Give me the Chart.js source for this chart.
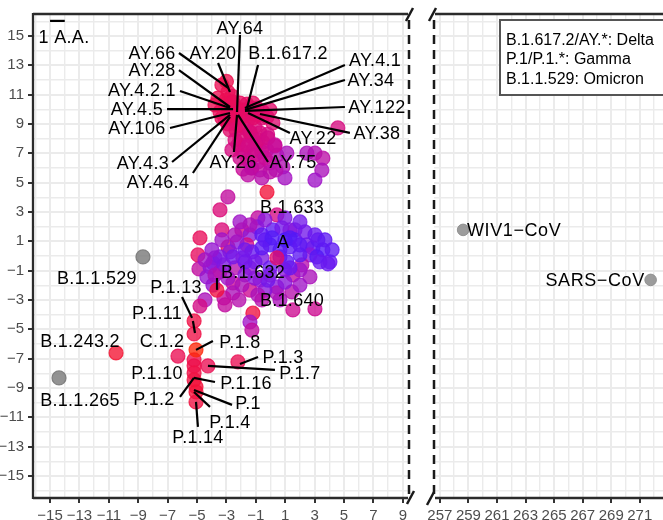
<!DOCTYPE html>
<html><head><meta charset="utf-8">
<script src="https://cdn.jsdelivr.net/npm/chart.js@4.4.1/dist/chart.umd.min.js"></script>
<style>
html,body{margin:0;padding:0;overflow:hidden;background:#fff;width:663px;height:520px;}
canvas{position:absolute;top:0;}
#left{left:0;width:420px;height:540px;}
#right{left:420px;width:253px;height:540px;}
</style></head><body>
<canvas id="left" width="420" height="540"></canvas>
<canvas id="right" width="253" height="540"></canvas>
<script>
// ---------- DATA ----------
const xTickLabelsLeft = [-15,-13,-11,-9,-7,-5,-3,-1,1,3,5,7,9];
const xTickLabelsRight = [257,259,261,263,265,267,269,271];
const yTickLabels = [-15,-13,-11,-9,-7,-5,-3,-1,1,3,5,7,9,11,13,15];

// Delta cluster (B.1.617.2 / AY.*): x, y, colour value (0 = red ... 1 = blue)
const deltaX = [-3.31,-2.90,-3.58,-3.10,-2.63,-2.90,-2.42,-2.08,-1.61,-1.20,-0.93,-0.52,0.16,-0.59,-3.31,-2.90,-2.08,-1.54,-2.35,-1.74,-1.06,-2.08,-1.27,-0.72,-0.52,-1.74,-1.88,-1.20,-0.59,-0.25,-1.54,-0.86,-1.88,-0.72,-0.04,0.43,1.11,0.84,0.98,2.47,3.02,3.56,3.49,3.02,4.58,-2.5,-1.9,-2.7,-1.4,-2.2,-1.4,-1.0,-2.2,-1.3,0.3,-0.2,-3.0,
  -3.78,-3.44,-3.03,-2.56,-1.95,-1.40,-0.86,-0.24,-0.04,-3.10,-2.63,-2.22,-1.74,-1.20,-2.76,-1.40,-0.86,-2.42,-1.54,-1.06,-2.08,-0.38,-1.27,-0.04,-0.59,0.37,-1.54,-2.63,-0.18,0.30];
const deltaY = [11.66,11.18,10.77,10.36,10.91,9.82,10.10,10.43,10.36,10.43,10.09,9.82,9.07,9.41,9.41,9.00,9.41,9.27,8.59,8.73,8.80,8.05,8.11,8.39,7.77,7.57,7.10,7.23,7.10,7.23,6.55,6.41,5.93,5.87,6.34,6.88,7.01,6.07,5.32,7.01,7.01,6.67,5.86,5.18,8.73,9.3,9.9,10.5,9.7,8.9,8.4,7.7,7.6,6.0,7.5,8.3,11.9,
  10.30,9.82,10.64,10.50,9.96,10.10,9.62,9.48,9.96,9.28,9.62,9.82,9.55,9.41,8.60,8.46,7.91,7.91,7.50,6.89,6.69,6.69,6.00,5.73,5.32,5.87,5.53,7.23,8.05,7.57];
const deltaShade = [.15,.15,.15,.17,.17,.18,.2,.2,.22,.22,.24,.25,.27,.26,.18,.2,.22,.25,.26,.28,.3,.3,.32,.32,.35,.33,.36,.36,.38,.4,.4,.42,.42,.45,.45,.5,.55,.52,.58,.55,.52,.48,.55,.6,.33,.2,.22,.18,.25,.25,.3,.35,.32,.44,.45,.33,.13,
  .15,.17,.16,.18,.2,.22,.24,.26,.25,.2,.2,.2,.23,.25,.25,.3,.33,.3,.35,.38,.38,.42,.45,.48,.5,.5,.47,.33,.36,.42];

// Central cluster (A, B.1.633, B.1.632, B.1.640 ...)
const centralX = [-0.24,-2.90,-3.44,-3.31,-4.80,-4.94,-4.87,-0.86,-0.93,0.43,-1.95,-1.40,-1.61,-2.90,-2.28,-0.38,0.16,0.77,1.32,1.66,-0.04,0.64,1.32,2.47,2.88,3.56,4.04,2.68,-0.59,-1.27,-2.76,-3.78,-4.12,-3.44,-2.42,-1.40,-0.72,-2.56,-1.40,-3.92,-3.44,-2.56,-4.33,-3.92,-4.46,-4.80,-2.56,0.43,0.43,1.45,2.13,2.68,1.52,1.52,3.02,3.91,3.15,0.64,-1.20,-1.40,-1.27,-0.59,0.98,1.66,2.00,1.11,-0.04,-1.06,-1.88,-3.17,-1.74,-0.38,0.98,3.22,2.34,2.00,-2.15,-3.17,-0.86,-0.18,0.43,-3.65,
  -2.08,-0.38,0.98,2.00,-1.40,0.10,1.32,2.00,3.02,3.70,4.19,3.36,-0.59,-1.74,-2.42,-3.31,-3.99,-4.46,-3.78,-2.90,-1.95,-1.06,-0.04,0.98,2.00,-0.59,-3.10,0.64,-1.74,1.32];
const centralY = [4.36,4.03,3.14,1.78,1.23,0.07,-0.88,2.60,1.98,2.80,1.78,1.44,0.76,0.62,0.96,1.10,1.78,1.92,1.78,1.78,0.76,0.42,0.62,0.76,0.55,0.42,-0.40,0.07,-0.13,0.28,0.28,-0.13,-0.74,-1.08,-0.81,-0.81,-1.64,-1.84,-2.32,-0.47,-0.06,-0.06,-1.43,-1.98,-2.99,-3.41,-2.52,-2.11,-2.52,-2.45,-0.61,-1.43,-1.29,-3.68,-3.61,-0.54,-0.06,-0.06,-3.90,-4.50,-5.05,1.44,1.10,1.10,0.07,-0.40,-0.81,-0.40,-0.13,-0.61,-1.29,-2.32,-0.95,1.10,1.64,-0.95,-2.99,-2.86,-2.65,-1.64,-0.13,-2.32,
  2.32,2.46,2.60,2.32,2.12,1.23,1.23,0.76,1.44,1.10,0.42,-0.40,0.55,0.42,1.44,1.10,0.42,-0.27,-1.30,-1.51,-1.98,-1.51,-1.30,-1.78,-1.98,-2.99,-3.33,-2.99,-0.40,-0.81];
const centralShade = [.05,.45,.3,.3,.18,.2,.45,.45,.65,.35,.35,.7,.35,.15,.7,.85,.9,.8,.75,.72,.95,.95,.9,.8,.85,.95,.85,.7,.75,.85,.7,.7,.7,.3,.5,.65,.65,.4,.4,.7,.75,.8,.65,.65,.55,.35,.55,.7,.55,.5,.5,.55,.45,.4,.4,.85,.95,.9,.08,.6,.45,.9,1.0,.95,.9,.9,.85,.8,.75,.75,.7,.7,.7,.9,.8,.6,.5,.45,.55,.8,.25,.08,
  .6,.7,.75,.8,.55,.95,.95,.9,.85,.9,.9,.85,.9,.8,.55,.6,.65,.6,.55,.6,.55,.7,.75,.7,.6,.5,.45,.55,.8,.85];

// Gamma cluster (P.1 / P.1.*) and nearby
const gammaX = [-5.20,-5.20,-6.30,-10.51,-5.20,-5.20,-4.26,-2.22,-5.20,-5.20,-5.07,-5.07,-5.07,-5.07];
const gammaY = [-4.43,-5.31,-6.82,-6.61,-7.08,-7.49,-7.49,-7.22,-7.97,-8.45,-8.92,-9.27,-9.95,-6.40];
const gammaShade = [.1,.1,.15,.02,.12,.12,.15,.15,.1,.08,.05,.05,.08,-.08];

// Grey reference viruses
const greyLeftX = [-8.68,-14.39];   // B.1.1.529, B.1.1.265
const greyLeftY = [-0.06,-8.31];
const greyRightX = [258.63,271.76]; // WIV1-CoV, SARS-CoV
const greyRightY = [1.78,-1.63];

// Text labels (left panel): name, label centre, optional leader segment
const labelNames = ['AY.64','AY.66','AY.20','B.1.617.2','AY.4.1','AY.34','AY.28','AY.4.2.1','AY.4.5','AY.122','AY.106','AY.38','AY.22','AY.4.3','AY.46.4','AY.26','AY.75','B.1.633','A','B.1.632','B.1.640','B.1.1.529','P.1.13','P.1.11','C.1.2','P.1.8','B.1.243.2','B.1.1.265','P.1.3','P.1.7','P.1.10','P.1.16','P.1.2','P.1','P.1.4','P.1.14'];
const labelX = [-2.08,-8.06,-3.92,1.19,7.11,6.83,-8.06,-8.75,-9.09,7.24,-9.09,7.24,2.89,-8.68,-7.66,-2.55,1.53,1.46,0.85,-1.19,1.46,-11.81,-6.43,-7.72,-7.38,-2.08,-12.96,-12.96,0.85,2.00,-7.72,-1.67,-7.93,-1.53,-2.76,-4.94];
const labelY = [15.55,13.86,13.84,13.84,13.36,12.0,12.68,11.32,10.02,10.16,8.73,8.39,8.05,6.34,5.05,6.41,6.41,3.34,0.96,-1.09,-2.99,-1.50,-2.11,-3.88,-5.79,-5.86,-5.79,-9.81,-6.88,-7.97,-7.97,-8.65,-9.74,-10.02,-11.31,-12.33];
const labelSegments = [
  [-2.08,15.07,-2.28,9.82],[-6.23,13.84,-2.89,11.46],[-3.57,13.16,-2.76,11.18],[-0.85,13.02,-1.60,10.09],
  [5.06,13.02,-1.74,10.09],[5.06,12.0,-1.74,9.96],[-6.23,12.68,-2.76,10.16],[-6.16,11.25,-2.76,10.09],
  [-7.04,10.02,-2.55,10.02],[5.06,10.16,-1.74,9.89],[-6.84,8.73,-2.76,9.75],[5.40,8.39,-0.72,9.68],
  [1.32,8.39,-1.53,9.75],[-6.70,6.41,-2.76,9.62],[-5.28,5.66,-2.76,9.48],[-2.49,7.09,-2.28,9.62],
  [-0.17,6.41,-2.21,9.62],null,null,[-3.64,-1.50,-3.64,-2.31],null,null,
  [-6.02,-2.79,-5.34,-4.22],[-5.28,-4.43,-5.14,-5.25],null,[-3.92,-5.79,-5.07,-6.40],null,null,
  [-0.85,-6.88,-2.08,-7.36],[0.30,-7.77,-4.26,-7.49],null,[-3.78,-8.59,-5.21,-8.31],
  [-6.16,-9.61,-5.21,-8.31],[-2.62,-10.15,-5.21,-9.13],[-4.12,-10.29,-5.21,-9.27],[-4.94,-11.65,-5.07,-9.95]
];
const rightLabels = ['WIV1\u2212CoV','SARS\u2212CoV'];
const rightLabelX = [258.9, 271.35];
const legendLines = ['B.1.617.2/AY.*: Delta','P.1/P.1.*: Gamma','B.1.1.529: Omicron'];

// ---------- STYLE / HELPERS ----------
const FONT = "'Liberation Sans', Arial, Helvetica, sans-serif";
Chart.defaults.font.family = FONT;
const stops = [[-0.1,[255,45,0]],[0,[245,20,45]],[0.2,[232,12,95]],[0.4,[205,10,145]],[0.6,[160,20,200]],[0.8,[115,25,235]],[1,[75,25,250]]];
function shade(t, a){
  let i=0; while(i<stops.length-2 && t>stops[i+1][0]) i++;
  const [t0,c0]=stops[i],[t1,c1]=stops[i+1];
  const f=Math.max(0,Math.min(1,(t-t0)/(t1-t0)));
  const c=c0.map((v,k)=>Math.round(v+(c1[k]-v)*f));
  return `rgba(${c[0]},${c[1]},${c[2]},${a})`;
}
function pts(xs, ys, ss){ return xs.map((x,i)=>({x, y:ys[i], s: ss?ss[i]:0})); }
function fmt(v){ return v<0 ? '\u2212'+Math.abs(v) : String(v); }
function intTicks(axis){ const t=[]; for(let v=Math.ceil(axis.min); v<=Math.floor(axis.max); v++) t.push({value:v}); axis.ticks=t; }
function axisCfg(min, max, labels, isX, showLabels){
  return {
    type:'linear', min, max,
    afterBuildTicks: intTicks,
    afterFit: s => { if(isX) s.height = 42; else s.width = showLabels ? 33 : 0; },
    border:{display:false},
    grid:{
      color:'#ebebeb',
      lineWidth: c => (c.tick && labels.includes(c.tick.value)) ? 2 : 1.4,
      drawTicks: showLabels,
      tickLength: 5, tickWidth: 2,
      tickColor: c => (c.tick && labels.includes(c.tick.value)) ? '#333333' : 'rgba(0,0,0,0)'
    },
    ticks:{
      display: showLabels, autoSkip:false, maxRotation:0, minRotation:0,
      padding: isX ? 4 : 4, color:'#4d4d4d', font:{size:15, family:FONT},
      callback: v => labels.includes(v) ? fmt(v) : ''
    }
  };
}
const pointStyle = {
  backgroundColor: c => shade(c.raw.s, 0.78),
  borderColor: c => shade(c.raw.s, 0.8),
  borderWidth: 1.2, pointRadius: 7, pointHoverRadius: 7
};
const LABEL_FONT = '18px ' + FONT;

function line(ctx, x1,y1,x2,y2){ ctx.beginPath(); ctx.moveTo(x1,y1); ctx.lineTo(x2,y2); ctx.stroke(); }

const leftDecor = {
  id:'leftDecor',
  afterDatasetsDraw(chart){
    const {ctx, scales:{x,y}} = chart;
    ctx.save();
    ctx.strokeStyle='#000'; ctx.lineWidth=2.2; ctx.lineCap='butt';
    labelSegments.forEach(s=>{ if(s) line(ctx, x.getPixelForValue(s[0]), y.getPixelForValue(s[1]), x.getPixelForValue(s[2]), y.getPixelForValue(s[3])); });
    ctx.fillStyle='#000'; ctx.font=LABEL_FONT; ctx.textAlign='center'; ctx.textBaseline='middle';
    try{ ctx.letterSpacing='0.3px'; }catch(e){}
    labelNames.forEach((n,i)=> ctx.fillText(n, x.getPixelForValue(labelX[i]), y.getPixelForValue(labelY[i])+1));
    // scale bar: 1 amino-acid unit
    ctx.lineWidth=2.2;
    line(ctx, x.getPixelForValue(-15), y.getPixelForValue(16.03), x.getPixelForValue(-14), y.getPixelForValue(16.03));
    ctx.fillText('1 A.A.', x.getPixelForValue(-14.05), y.getPixelForValue(14.94)+1);
    ctx.restore();
  },
  afterDraw(chart){
    const {ctx, chartArea:a} = chart;
    ctx.save();
    ctx.strokeStyle='#2b2b2b'; ctx.lineWidth=2.3;
    line(ctx, a.left, a.top-1, a.left, a.bottom+1);
    line(ctx, a.left, a.top, a.right-1, a.top);
    line(ctx, a.left, a.bottom, a.right-1, a.bottom);
    ctx.strokeStyle='#1a1a1a'; ctx.lineWidth=2.5;
    line(ctx, a.right-3, a.top+7, a.right+4, a.top-6);
    line(ctx, a.right-2, a.bottom+6, a.right+5, a.bottom-7);
    ctx.setLineDash([9,6]);
    line(ctx, a.right, a.top+6, a.right, a.bottom-4);
    ctx.restore();
  }
};

const rightDecor = {
  id:'rightDecor',
  afterDatasetsDraw(chart){
    const {ctx, scales:{x,y}} = chart;
    ctx.save();
    ctx.fillStyle='#000'; ctx.font=LABEL_FONT; ctx.textBaseline='middle';
    try{ ctx.letterSpacing='0.6px'; }catch(e){}
    ctx.textAlign='left';
    ctx.fillText(rightLabels[0], x.getPixelForValue(rightLabelX[0]), y.getPixelForValue(greyRightY[0])+1);
    ctx.textAlign='right';
    ctx.fillText(rightLabels[1], x.getPixelForValue(rightLabelX[1]), y.getPixelForValue(greyRightY[1])+1);
    try{ ctx.letterSpacing='0px'; }catch(e){}
    // legend box
    ctx.fillStyle='#fff'; ctx.strokeStyle='#555'; ctx.lineWidth=2;
    ctx.fillRect(80,20,200,75); ctx.strokeRect(80,20,200,75);
    ctx.fillStyle='#000'; ctx.font='16px '+FONT; ctx.textAlign='left'; ctx.textBaseline='alphabetic';
    legendLines.forEach((t,i)=> ctx.fillText(t, 86, 44.5 + i*19.5));
    ctx.restore();
  },
  afterDraw(chart){
    const {ctx, chartArea:a, width} = chart;
    ctx.save();
    ctx.strokeStyle='#2b2b2b'; ctx.lineWidth=2.3;
    line(ctx, a.left+1, a.top, width, a.top);
    line(ctx, a.left+1, a.bottom, width, a.bottom);
    ctx.strokeStyle='#1a1a1a'; ctx.lineWidth=2.5;
    line(ctx, a.left-5, a.top+7, a.left+2, a.top-6);
    line(ctx, a.left-7, a.bottom+7, a.left, a.bottom-6);
    ctx.setLineDash([9,6]);
    line(ctx, a.left, a.top+6, a.left, a.bottom-4);
    ctx.restore();
  }
};

const common = {
  responsive:false, animation:false, devicePixelRatio:1,
  plugins:{legend:{display:false}, tooltip:{enabled:false}},
  events:[]
};

new Chart(document.getElementById('left'), {
  type:'scatter',
  data:{datasets:[
    Object.assign({data: pts(centralX, centralY, centralShade)}, pointStyle),
    Object.assign({data: pts(deltaX, deltaY, deltaShade)}, pointStyle),
    Object.assign({data: pts(gammaX, gammaY, gammaShade)}, pointStyle),
    {data: pts(greyLeftX, greyLeftY), backgroundColor:'rgba(128,128,128,0.85)', borderColor:'rgba(120,120,120,0.9)', borderWidth:1.2, pointRadius:7}
  ]},
  options: Object.assign({}, common, {
    layout:{padding:{top:14, right:11, left:0, bottom:0}},
    scales:{
      x: axisCfg(-16.16, 9.42, xTickLabelsLeft, true, true),
      y: axisCfg(-16.5, 16.5, yTickLabels, false, true)
    }
  }),
  plugins:[leftDecor]
});

new Chart(document.getElementById('right'), {
  type:'scatter',
  data:{datasets:[
    {data: pts(greyRightX, greyRightY), backgroundColor:'rgba(145,145,145,0.9)', borderColor:'rgba(140,140,140,0.9)', borderWidth:1, pointRadius:5.8}
  ]},
  options: Object.assign({}, common, {
    layout:{padding:{top:14, right:0, left:14, bottom:0}},
    scales:{
      x: axisCfg(256.59, 272.85, xTickLabelsRight, true, true),
      y: axisCfg(-16.5, 16.5, yTickLabels, false, false)
    }
  }),
  plugins:[rightDecor]
});
</script>
</body></html>
